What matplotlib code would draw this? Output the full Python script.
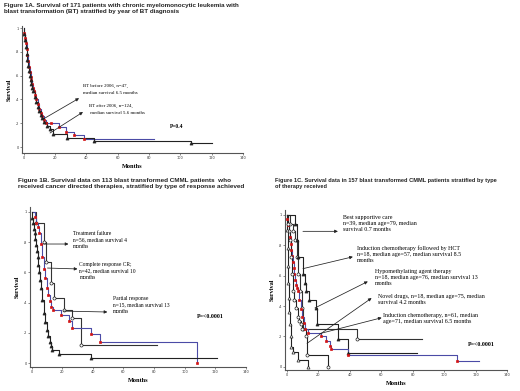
import matplotlib
matplotlib.use("Agg")
from matplotlib import pyplot as plt

# ---- data ----
# Figure 1A: by year of BT diagnosis
a_red_t = [0, 0.5, 1, 1.5, 2, 2.5, 3, 3.5, 4, 4.5, 5, 5.5, 6, 6.5, 7, 8, 9, 10, 11, 12, 13, 14, 17.4, 22.7, 27, 32.3, 38.6, 83]
a_red_s = [1, 0.96, 0.92, 0.87, 0.82, 0.77, 0.72, 0.67, 0.63, 0.59, 0.56, 0.53, 0.5, 0.47, 0.44, 0.4, 0.36, 0.32, 0.29, 0.26, 0.23, 0.2, 0.2, 0.17, 0.13, 0.1, 0.07, 0.07]
a_blk_t = [0, 0.5, 1, 1.5, 2, 2.5, 3, 3.5, 4, 4.5, 5, 5.5, 6, 7, 8, 9, 10, 11, 12, 13, 15, 17, 18.5, 28, 45, 106.6, 120]
a_blk_s = [1, 0.95, 0.9, 0.84, 0.78, 0.73, 0.68, 0.64, 0.6, 0.56, 0.53, 0.5, 0.47, 0.42, 0.38, 0.34, 0.3, 0.27, 0.24, 0.21, 0.18, 0.15, 0.11, 0.08, 0.05, 0.03, 0.03]

# Figure 1B: by type of response
b_fail_t = [0, 0.5, 1, 1.5, 2, 2.5, 3, 3.5, 4, 4.5, 5, 5.5, 6, 7, 8, 9, 10, 11, 12, 13, 13.5, 18, 38.6, 121]
b_fail_s = [1, 0.96, 0.93, 0.89, 0.86, 0.82, 0.78, 0.74, 0.7, 0.65, 0.6, 0.55, 0.5, 0.42, 0.33, 0.27, 0.22, 0.18, 0.14, 0.11, 0.088, 0.062, 0.033, 0.033]
b_cr_t = [0, 2, 3, 4, 5, 6, 7, 8, 9, 10, 11, 12, 13, 14, 19, 24.5, 26.7, 38.6, 45, 108]
b_cr_s = [1, 0.97, 0.93, 0.9, 0.86, 0.79, 0.7, 0.62, 0.56, 0.5, 0.45, 0.41, 0.37, 0.35, 0.32, 0.28, 0.23, 0.19, 0.14, 0.0]
b_pr_t = [0, 3, 8, 9.3, 12.6, 14.7, 21.2, 26.7, 32, 82]
b_pr_s = [1, 0.93, 0.8, 0.67, 0.53, 0.43, 0.35, 0.3, 0.12, 0.12]

# Figure 1C: by type of therapy
c_bsc_t = [0, 0.3, 0.6, 0.8, 1.0, 1.3, 1.6, 2.0, 2.5, 3.0, 4.1, 7.3, 13.6]
c_bsc_s = [1, 0.9, 0.78, 0.66, 0.55, 0.45, 0.36, 0.28, 0.2, 0.13, 0.1, 0.045, 0.0]
c_novel_t = [0, 0.8, 1.5, 2.2, 2.8, 3.4, 4.1, 5, 6, 7, 8, 9, 10, 12.5, 13, 26.3]
c_novel_s = [1, 0.94, 0.89, 0.83, 0.72, 0.61, 0.5, 0.44, 0.39, 0.33, 0.3, 0.28, 0.25, 0.2, 0.077, 0.0]
c_hct_t = [0, 2, 4, 5.5, 6.5, 7.5, 8.5, 9.5, 10.4, 45, 86]
c_hct_s = [1, 0.94, 0.89, 0.83, 0.72, 0.61, 0.5, 0.39, 0.25, 0.185, 0.185]
c_hma_t = [0, 5.4, 6.5, 7.3, 10.4, 11.5, 12.5, 14, 18.9, 19.5, 32.6, 39, 83]
c_hma_s = [1, 0.94, 0.83, 0.72, 0.61, 0.55, 0.5, 0.44, 0.39, 0.28, 0.185, 0.09, 0.09]
c_ind_t = [0, 0.5, 1, 1.5, 2, 2.5, 3, 3.5, 4, 4.5, 5, 5.5, 6, 6.5, 7, 8, 9, 10, 11, 12, 13.6, 22, 25.2, 27.3, 28.4, 39, 108.5, 122.5]
c_ind_s = [1, 0.97, 0.93, 0.89, 0.85, 0.81, 0.77, 0.73, 0.69, 0.65, 0.61, 0.57, 0.54, 0.52, 0.5, 0.44, 0.38, 0.33, 0.29, 0.25, 0.22, 0.2, 0.17, 0.14, 0.12, 0.08, 0.04, 0.04]

x_ticks = [0, 20, 40, 60, 80, 100, 120, 140]
y_ticks = [0, 0.2, 0.4, 0.6, 0.8, 1.0]
y_ticklabels = ['0', '.2', '.4', '.6', '.8', '1']

RED = '#d41414'
BLUE = '#4b4ba6'
SERIF = ['Liberation Serif', 'DejaVu Serif']
SANS = ['Liberation Sans', 'DejaVu Sans']

fig = plt.figure(figsize=(5.2, 3.91), dpi=100)


def km(ax, t, s, lc, mk, mfc, mec, end_mark=False):
    ax.step(t, s, where='post', color=lc, lw=0.8, zorder=2)
    n = len(t) if end_mark else len(t) - 1
    ms = 1.8 if mk == 's' else 2.2
    ax.plot(t[1:n], s[1:n], ls='none', marker=mk, ms=ms, mfc=mfc, mec=mec, mew=0.5, zorder=3)


def setup(ax, ylo, yhi):
    ax.set_xlim(-1, 140)
    ax.set_ylim(ylo, yhi)
    ax.spines['top'].set_visible(False)
    ax.spines['right'].set_visible(False)
    for sp in ['left', 'bottom']:
        ax.spines[sp].set_color('#555555')
        ax.spines[sp].set_linewidth(0.8)
    ax.set_xticks(x_ticks)
    ax.set_yticks(y_ticks)
    ax.set_yticklabels(y_ticklabels)
    ax.tick_params(labelsize=2.5, length=1.2, width=0.4, pad=1, colors='#333333')
    ax.set_xlabel('Months', fontsize=4.5, fontweight='bold', family=SERIF, labelpad=3)
    ax.set_ylabel('Survival', fontsize=4.5, fontweight='bold', family=SERIF, labelpad=3)


def note(ax, x, y, txt, size, ls):
    ax.text(x, y, txt, fontsize=size, family=SERIF, va='top', ha='left', linespacing=ls)


def arrow(ax, tail, head):
    ax.annotate('', xy=head, xytext=tail,
                arrowprops=dict(arrowstyle='-|>', lw=0.55, color='#222222', mutation_scale=4.5,
                                shrinkA=0, shrinkB=0))


# ---- Figure 1A ----
axA = fig.add_axes([22 / 520, 1 - 153 / 391, 221 / 520, 127 / 391])
setup(axA, -0.05, 1.017)
km(axA, a_red_t, a_red_s, BLUE, 's', RED, RED)
km(axA, a_blk_t, a_blk_s, '#222222', '^', '#222222', '#222222')
arrow(axA, (13.7, 0.244), (35.4, 0.41))
arrow(axA, (16.9, 0.118), (37.9, 0.294))
note(axA, 37.9, 0.53, 'BT before 2006, n=47,\nmedian survival 6.5 months', 3.5, 1.9)
note(axA, 41.7, 0.36, 'BT after 2006, n=124,\n median survival 5.6 months', 3.5, 1.9)
axA.text(98, 0.17, 'P=0.4', fontsize=4.0, fontweight='bold', family=SERIF, ha='center', va='center')
fig.text(4 / 520, 1 - 3 / 391,
         'Figure 1A. Survival of 171 patients with chronic myelomonocytic leukemia with\n'
         'blast transformation (BT) stratified by year of BT diagnosis',
         fontsize=4.5, fontweight='bold', family=SANS, va='top', ha='left', color='#222222')

# ---- Figure 1B ----
axB = fig.add_axes([30 / 520, 24 / 391, 216 / 520, 160 / 391])
setup(axB, -0.026, 1.033)
km(axB, b_pr_t, b_pr_s, '#333333', 'o', 'white', '#222222')
km(axB, b_cr_t, b_cr_s, BLUE, 's', RED, RED, end_mark=True)
km(axB, b_fail_t, b_fail_s, '#222222', '^', '#222222', '#222222')
arrow(axB, (7.8, 0.788), (24.1, 0.788))
arrow(axB, (10.4, 0.629), (30.0, 0.623))
arrow(axB, (20.8, 0.344), (49.5, 0.338))
note(axB, 27.3, 0.875, 'Treatment failure\nn=56, median survival 4\nmonths', 4.0, 1.45)
note(axB, 31.3, 0.67, 'Complete response CR;\nn=42, median survival 10\nmonths', 4.0, 1.45)
note(axB, 53.4, 0.445, 'Partial response\nn=15, median survival 13\nmonths', 4.0, 1.45)
axB.text(116.5, 0.305, 'P=<0.0001', fontsize=4.3, fontweight='bold', family=SERIF, ha='center', va='center')
fig.text(18 / 520, 1 - 178 / 391,
         'Figure 1B. Survival data on 113 blast transformed CMML patients  who\n'
         'received cancer directed therapies, stratified by type of response achieved',
         fontsize=4.55, fontweight='bold', family=SANS, va='top', ha='left', color='#222222')

# ---- Figure 1C ----
axC = fig.add_axes([285 / 520, 21 / 391, 222 / 520, 160 / 391])
setup(axC, -0.02, 1.03)
km(axC, c_hct_t, c_hct_s, '#333333', 'o', 'white', '#222222')
km(axC, c_hma_t, c_hma_s, '#222222', '^', '#222222', '#222222')
km(axC, c_ind_t, c_ind_s, BLUE, 's', RED, RED)
km(axC, c_novel_t, c_novel_s, '#222222', 'o', 'white', '#222222', end_mark=True)
km(axC, c_bsc_t, c_bsc_s, '#222222', '^', 'white', '#222222', end_mark=True)
arrow(axC, (10.4, 0.89), (32.6, 0.89))
arrow(axC, (10.4, 0.645), (42.1, 0.723))
arrow(axC, (18.0, 0.387), (51.6, 0.561))
arrow(axC, (13.0, 0.155), (54.0, 0.452))
arrow(axC, (21.2, 0.219), (60.4, 0.323))
note(axC, 35.8, 1.0, 'Best supportive care\nn=39, median age=79, median\nsurvival 0.7 months', 4.3, 1.35)
note(axC, 44.6, 0.80, 'Induction chemotherapy followed by HCT\nn=18, median age=57, median survival 8.5\nmonths', 4.3, 1.35)
note(axC, 56.0, 0.645, 'Hypomethylating agent therapy\nn=18, median age=76, median survival 13\nmonths', 4.3, 1.35)
note(axC, 58.0, 0.48, 'Novel drugs, n=18, median age=75, median\nsurvival 4.2 months', 4.3, 1.35)
note(axC, 61.0, 0.355, 'Induction chemotherapy, n=61, median\nage=71, median survival 6.5 months', 4.3, 1.35)
axC.text(123.7, 0.148, 'P=<0.0001', fontsize=4.3, fontweight='bold', family=SERIF, ha='center', va='center')
fig.text(275 / 520, 1 - 178 / 391,
         'Figure 1C. Survival data in 157 blast transformed CMML patients stratified by type\n'
         'of therapy received',
         fontsize=4.05, fontweight='bold', family=SANS, va='top', ha='left', color='#222222')

fig.savefig('out.png', dpi=100, facecolor='white')
